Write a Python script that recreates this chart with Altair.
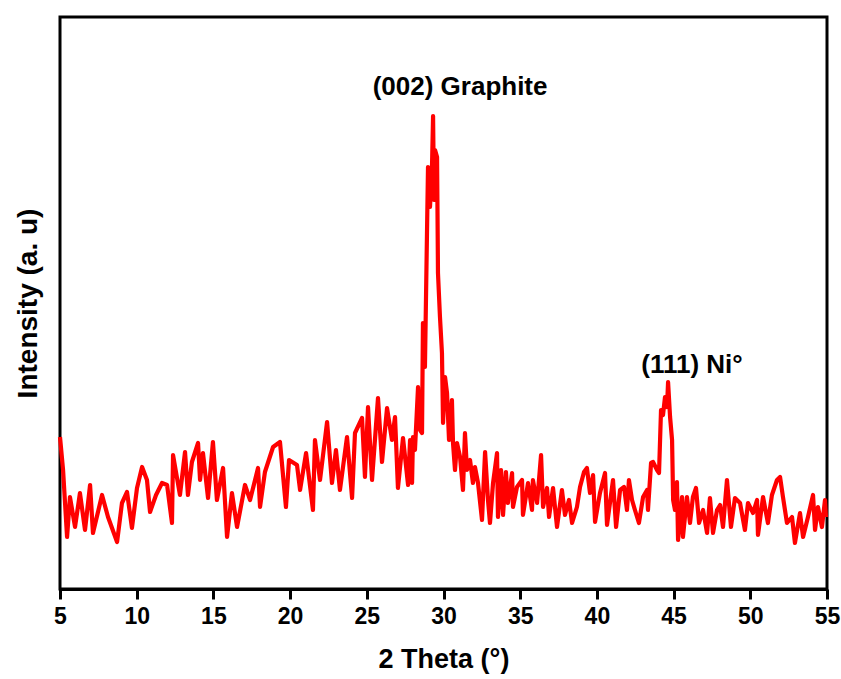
import altair as alt
import pandas as pd

two_theta = [
    5.00, 5.20, 5.46, 5.65, 5.98, 6.30, 6.63, 6.96, 7.15, 7.74, 8.13, 8.72, 9.04, 9.37, 9.69,
    10.02, 10.35, 10.67, 10.87, 11.26, 11.65, 11.98, 12.30, 12.37, 12.82, 13.15, 13.34, 13.60,
    14.00, 14.13, 14.32, 14.65, 14.97, 15.23, 15.63, 15.89, 16.21, 16.54, 17.06, 17.39, 17.91,
    18.04, 18.36, 18.89, 19.34, 19.73, 19.93, 20.45, 20.65, 21.04, 21.49, 21.62, 21.95, 22.41,
    22.73, 22.99, 23.25, 23.71, 24.04, 24.23, 24.69, 24.88, 25.08, 25.34, 25.73, 25.99, 26.32,
    26.64, 26.84, 27.03, 27.36, 27.69, 27.82, 27.95, 28.01, 28.14, 28.34, 28.47, 28.60, 28.66,
    28.79, 28.92, 28.99, 29.12, 29.25, 29.32, 29.38, 29.45, 29.58, 29.64, 29.77, 29.90, 29.97,
    30.10, 30.23, 30.36, 30.55, 30.62, 30.75, 30.88, 31.08, 31.27, 31.40, 31.53, 31.73, 31.92,
    32.05, 32.25, 32.51, 32.71, 32.90, 33.03, 33.23, 33.49, 33.55, 33.75, 33.88, 34.07, 34.20,
    34.47, 34.53, 34.79, 35.12, 35.18, 35.51, 35.77, 35.83, 36.10, 36.36, 36.49, 36.75, 36.88,
    37.14, 37.40, 37.72, 37.92, 38.18, 38.38, 38.70, 38.90, 39.16, 39.35, 39.55, 39.75, 39.88,
    40.20, 40.53, 40.66, 41.05, 41.25, 41.51, 41.77, 41.96, 42.09, 42.29, 42.48, 42.74, 43.01,
    43.27, 43.33, 43.53, 43.66, 43.92, 44.05, 44.18, 44.31, 44.44, 44.57, 44.64, 44.77, 44.90,
    44.97, 45.09, 45.22, 45.29, 45.55, 45.61, 45.87, 46.07, 46.26, 46.46, 46.66, 46.92, 47.18,
    47.37, 47.57, 47.83, 48.03, 48.22, 48.48, 48.74, 49.00, 49.33, 49.65, 49.85, 50.18, 50.44,
    50.50, 50.83, 51.15, 51.41, 51.74, 51.94, 52.13, 52.39, 52.72, 52.91, 53.24, 53.44, 53.76,
    54.09, 54.22, 54.41, 54.67, 54.87, 54.93,
]

intensity = [
    152, 119, 52, 92, 62, 96, 59, 104, 56, 94, 72, 47, 86, 97, 61,
    101, 122, 109, 77, 94, 106, 104, 66, 134, 94, 137, 94, 127,
    146, 109, 136, 91, 147, 89, 121, 52, 96, 62, 104, 89, 121,
    82, 117, 142, 147, 82, 129, 124, 99, 136, 79, 149, 109, 167,
    106, 139, 99, 152, 91, 156, 171, 112, 182, 109, 191, 127, 181,
    149, 172, 101, 151, 104, 149, 106, 152, 139, 202, 159, 156, 266,
    222, 352, 422, 382, 422, 473, 389, 439, 432, 316, 272, 236, 166,
    212, 196, 149, 189, 146, 119, 146, 132, 99, 156, 119, 129, 106,
    122, 106, 69, 137, 89, 66, 106, 136, 72, 119, 74, 117, 86,
    116, 82, 102, 109, 74, 106, 79, 109, 86, 134, 82, 101, 72,
    101, 62, 99, 74, 89, 66, 82, 102, 117, 121, 96, 114, 67,
    96, 116, 64, 109, 62, 99, 102, 79, 109, 89, 79, 66, 92,
    99, 79, 126, 127, 119, 116, 179, 174, 192, 182, 207, 172, 149,
    89, 79, 107, 49, 92, 52, 92, 66, 92, 101, 66, 79, 56,
    91, 56, 79, 84, 62, 109, 62, 91, 86, 59, 86, 76, 89,
    54, 92, 66, 94, 109, 112, 92, 66, 72, 46, 76, 52, 72,
    94, 59, 82, 62, 89, 72,
]

peak_labels = ["(002) Graphite", "(111) Ni°"]
peak_x = [31.08, 46.2]
peak_y = [502, 224]

tick_values = [5, 7.5, 10, 12.5, 15, 17.5, 20, 22.5, 25, 27.5, 30, 32.5, 35, 37.5,
               40, 42.5, 45, 47.5, 50, 52.5, 55]

df = pd.DataFrame({"x": two_theta, "y": intensity})
ann = pd.DataFrame({"x": peak_x, "y": peak_y, "t": peak_labels})

FONT = "Liberation Sans"

xscale = alt.Scale(domain=[5, 55], nice=False, zero=False)
yscale = alt.Scale(domain=[0, 572], nice=False, zero=False)

line = alt.Chart(df).mark_line(color="#FF0000", strokeWidth=4.2, strokeJoin="round").encode(
    x=alt.X("x:Q", scale=xscale,
            axis=alt.Axis(
                title="2 Theta (°)", values=tick_values,
                labelExpr="datum.value % 5 === 0 ? datum.label : ''",
                tickSize={"condition": {"test": "datum.value % 5 === 0", "value": 10}, "value": 5},
                tickWidth=3, tickColor="black",
                domainColor="black", domainWidth=3,
                labelFont=FONT, labelFontWeight="bold", labelFontSize=23, labelColor="black",
                labelPadding=6, labelFlush=False,
                titleFont=FONT, titleFontWeight="bold", titleFontSize=27, titleColor="black",
                titlePadding=18, grid=False)),
    y=alt.Y("y:Q", scale=yscale,
            axis=alt.Axis(title="Intensity (a. u)", labels=False, ticks=False, domain=False,
                          grid=False, titleFont=FONT, titleFontWeight="bold", titleFontSize=28,
                          titleColor="black", titlePadding=18)),
)

text = alt.Chart(ann).mark_text(font=FONT, fontWeight="bold", fontSize=26, color="black",
                                baseline="middle", align="center").encode(
    x=alt.X("x:Q", scale=xscale), y=alt.Y("y:Q", scale=yscale), text="t:N")

chart = alt.layer(line, text).properties(
    width=767, height=572,
    background="white",
    autosize=alt.AutoSizeParams(type="none"),
    padding={"left": 60, "top": 17, "right": 14, "bottom": 90},
).configure_view(stroke="black", strokeWidth=3)

chart.save("out.html", embed_options={"renderer": "svg", "actions": False})
